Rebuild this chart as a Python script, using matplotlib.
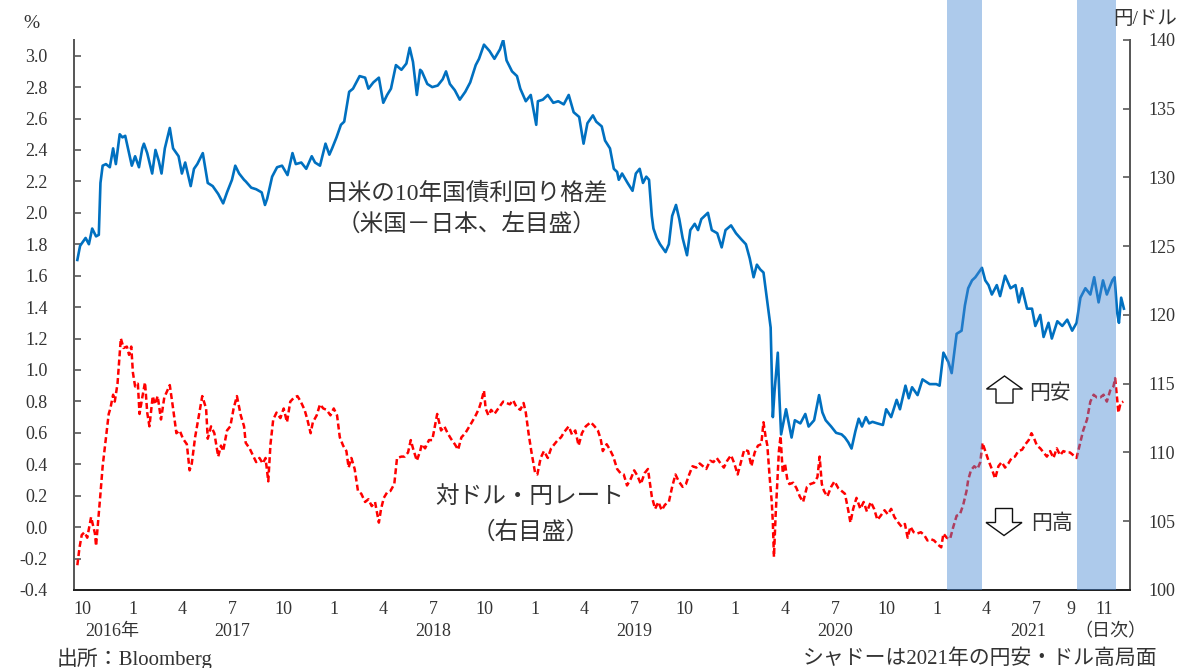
import pandas as pd
import matplotlib
matplotlib.use("Agg")
import matplotlib.pyplot as plt
import matplotlib.transforms as mtransforms
from matplotlib.patches import FancyArrow

plt.rcParams['font.family'] = ['Liberation Serif', 'Noto Sans CJK JP']

# --- data ---
spread_dates = [
    '2016-09-22', '2016-09-27', '2016-10-07', '2016-10-13', '2016-10-19', '2016-10-26', '2016-10-31',
    '2016-11-03', '2016-11-07', '2016-11-13', '2016-11-20', '2016-11-26', '2016-12-01', '2016-12-08',
    '2016-12-13', '2016-12-18', '2016-12-23', '2016-12-30', '2017-01-05', '2017-01-12', '2017-01-18',
    '2017-01-21', '2017-01-27', '2017-02-05', '2017-02-11', '2017-02-17', '2017-02-22', '2017-02-28',
    '2017-03-09', '2017-03-15', '2017-03-25', '2017-03-31', '2017-04-06', '2017-04-16', '2017-04-22',
    '2017-04-28', '2017-05-08', '2017-05-17', '2017-05-26', '2017-06-05', '2017-06-14', '2017-06-21',
    '2017-06-30', '2017-07-06', '2017-07-13', '2017-07-22', '2017-07-25', '2017-08-04', '2017-08-13',
    '2017-08-23', '2017-08-29', '2017-09-02', '2017-09-11', '2017-09-20', '2017-09-29', '2017-10-09',
    '2017-10-18', '2017-10-24', '2017-11-03', '2017-11-12', '2017-11-22', '2017-11-28', '2017-12-07',
    '2017-12-17', '2017-12-24', '2017-12-29', '2018-01-06', '2018-01-14', '2018-01-20', '2018-01-29',
    '2018-02-05', '2018-02-17', '2018-02-27', '2018-03-05', '2018-03-14', '2018-03-24', '2018-04-01',
    '2018-04-08', '2018-04-15', '2018-04-24', '2018-05-04', '2018-05-13', '2018-05-19', '2018-05-25',
    '2018-06-01', '2018-06-07', '2018-06-10', '2018-06-20', '2018-06-29', '2018-07-09', '2018-07-18',
    '2018-07-24', '2018-07-31', '2018-08-09', '2018-08-18', '2018-08-28', '2018-09-06', '2018-09-16',
    '2018-09-22', '2018-10-01', '2018-10-11', '2018-10-20', '2018-10-30', '2018-11-05', '2018-11-11',
    '2018-11-21', '2018-11-30', '2018-12-06', '2018-12-16', '2018-12-25', '2019-01-04', '2019-01-07',
    '2019-01-16', '2019-01-25', '2019-02-04', '2019-02-13', '2019-02-23', '2019-03-04', '2019-03-13',
    '2019-03-23', '2019-03-31', '2019-04-07', '2019-04-17', '2019-04-23', '2019-05-03', '2019-05-09',
    '2019-05-18', '2019-05-25', '2019-05-31', '2019-06-03', '2019-06-09', '2019-06-19', '2019-06-28',
    '2019-07-04', '2019-07-11', '2019-07-17', '2019-07-23', '2019-07-28', '2019-08-02', '2019-08-05',
    '2019-08-11', '2019-08-17', '2019-08-27', '2019-09-02', '2019-09-08', '2019-09-15', '2019-09-21',
    '2019-09-27', '2019-10-05', '2019-10-11', '2019-10-19', '2019-10-25', '2019-10-31', '2019-11-12',
    '2019-11-19', '2019-11-29', '2019-12-07', '2019-12-14', '2019-12-24', '2020-01-02', '2020-01-12',
    '2020-01-20', '2020-01-27', '2020-02-03', '2020-02-09', '2020-02-15', '2020-02-21', '2020-02-28',
    '2020-03-05', '2020-03-09', '2020-03-12', '2020-03-18', '2020-03-21', '2020-03-24', '2020-04-02',
    '2020-04-12', '2020-04-18', '2020-04-28', '2020-05-07', '2020-05-13', '2020-05-23', '2020-06-01',
    '2020-06-07', '2020-06-13', '2020-06-23', '2020-07-02', '2020-07-12', '2020-07-18', '2020-07-24',
    '2020-07-30', '2020-08-06', '2020-08-12', '2020-08-18', '2020-08-25', '2020-08-31', '2020-09-06',
    '2020-09-15', '2020-09-25', '2020-10-01', '2020-10-10', '2020-10-20', '2020-10-26', '2020-11-05',
    '2020-11-11', '2020-11-17', '2020-11-27', '2020-12-06', '2020-12-19', '2020-12-31', '2021-01-06',
    '2021-01-13', '2021-01-22', '2021-01-28', '2021-02-06', '2021-02-15', '2021-02-21', '2021-02-27',
    '2021-03-06', '2021-03-12', '2021-03-18', '2021-03-24', '2021-03-30', '2021-04-05', '2021-04-11',
    '2021-04-20', '2021-04-26', '2021-05-05', '2021-05-15', '2021-05-24', '2021-05-30', '2021-06-05',
    '2021-06-14', '2021-06-23', '2021-06-29', '2021-07-08', '2021-07-14', '2021-07-23', '2021-07-29',
    '2021-08-08', '2021-08-17', '2021-08-26', '2021-09-04', '2021-09-12', '2021-09-19', '2021-09-28',
    '2021-10-07', '2021-10-14', '2021-10-22', '2021-10-30', '2021-11-06', '2021-11-16', '2021-11-20',
    '2021-11-25', '2021-11-28', '2021-12-02', '2021-12-07',
]
spread_vals = [
    1.70, 1.79, 1.84, 1.80, 1.90, 1.85, 1.86,
    2.19, 2.30, 2.31, 2.29, 2.41, 2.31, 2.50,
    2.48, 2.49, 2.41, 2.30, 2.36, 2.29, 2.41,
    2.44, 2.38, 2.25, 2.40, 2.33, 2.25, 2.41,
    2.54, 2.41, 2.36, 2.25, 2.32, 2.17, 2.28,
    2.31, 2.38, 2.19, 2.17, 2.12, 2.06, 2.13,
    2.21, 2.30, 2.25, 2.21, 2.20, 2.16, 2.15,
    2.13, 2.05, 2.09, 2.23, 2.29, 2.30, 2.24,
    2.38, 2.31, 2.32, 2.28, 2.36, 2.32, 2.30,
    2.44, 2.37, 2.41, 2.48, 2.56, 2.58, 2.77,
    2.79, 2.87, 2.86, 2.79, 2.83, 2.86, 2.70,
    2.75, 2.79, 2.94, 2.91, 2.95, 3.05, 2.96,
    2.75, 2.91, 2.90, 2.82, 2.80, 2.81, 2.85,
    2.90, 2.82, 2.78, 2.72, 2.77, 2.83, 2.94,
    2.98, 3.07, 3.03, 2.98, 3.04, 3.10, 2.97,
    2.90, 2.87, 2.79, 2.71, 2.75, 2.56, 2.71,
    2.72, 2.75, 2.70, 2.71, 2.69, 2.75, 2.64,
    2.61, 2.44, 2.57, 2.62, 2.58, 2.55, 2.46,
    2.41, 2.28, 2.26, 2.21, 2.25, 2.19, 2.14,
    2.25, 2.28, 2.19, 2.23, 2.21, 1.98, 1.90,
    1.84, 1.80, 1.75, 1.80, 1.98, 2.05, 1.96,
    1.84, 1.73, 1.89, 1.93, 1.89, 1.96, 2.00,
    1.89, 1.87, 1.78, 1.89, 1.92, 1.87, 1.83,
    1.80, 1.71, 1.59, 1.67, 1.64, 1.62, 1.43,
    1.27, 0.70, 0.86, 1.11, 0.82, 0.59, 0.75,
    0.57, 0.68, 0.66, 0.72, 0.64, 0.68, 0.84,
    0.73, 0.68, 0.64, 0.60, 0.59, 0.57, 0.54,
    0.50, 0.61, 0.69, 0.64, 0.70, 0.66, 0.67,
    0.66, 0.65, 0.75, 0.70, 0.81, 0.75, 0.90,
    0.82, 0.89, 0.84, 0.94, 0.91, 0.91, 0.90,
    1.11, 1.05, 0.98, 1.23, 1.25, 1.41, 1.52,
    1.57, 1.59, 1.62, 1.65, 1.57, 1.54, 1.48,
    1.54, 1.47, 1.60, 1.52, 1.54, 1.43, 1.52,
    1.39, 1.39, 1.28, 1.35, 1.21, 1.30, 1.20,
    1.31, 1.28, 1.32, 1.25, 1.30, 1.46, 1.52,
    1.48, 1.59, 1.43, 1.57, 1.48, 1.57, 1.59,
    1.36, 1.30, 1.46, 1.39,
]

usdjpy_dates = [
    '2016-09-22', '2016-09-26', '2016-09-30', '2016-10-05', '2016-10-10', '2016-10-17', '2016-10-24',
    '2016-10-26', '2016-11-03', '2016-11-07', '2016-11-13', '2016-11-18', '2016-11-21', '2016-11-26',
    '2016-11-29', '2016-12-04', '2016-12-10', '2016-12-15', '2016-12-21', '2016-12-25', '2016-12-29',
    '2017-01-01', '2017-01-05', '2017-01-10', '2017-01-13', '2017-01-18', '2017-01-23', '2017-01-27',
    '2017-01-31', '2017-02-06', '2017-02-10', '2017-02-15', '2017-02-21', '2017-02-27', '2017-03-09',
    '2017-03-15', '2017-03-21', '2017-03-27', '2017-04-02', '2017-04-09', '2017-04-14', '2017-04-18',
    '2017-04-24', '2017-05-01', '2017-05-07', '2017-05-14', '2017-05-17', '2017-05-23', '2017-05-29',
    '2017-06-05', '2017-06-10', '2017-06-14', '2017-06-21', '2017-06-27', '2017-07-03', '2017-07-09',
    '2017-07-16', '2017-07-22', '2017-07-25', '2017-08-01', '2017-08-07', '2017-08-13', '2017-08-19',
    '2017-08-25', '2017-08-30', '2017-09-04', '2017-09-08', '2017-09-13', '2017-09-19', '2017-09-26',
    '2017-10-02', '2017-10-08', '2017-10-14', '2017-10-21', '2017-10-27', '2017-11-02', '2017-11-09',
    '2017-11-14', '2017-11-20', '2017-11-24', '2017-12-01', '2017-12-07', '2017-12-13', '2017-12-19',
    '2017-12-26', '2018-01-01', '2018-01-07', '2018-01-12', '2018-01-18', '2018-01-24', '2018-01-28',
    '2018-02-02', '2018-02-08', '2018-02-14', '2018-02-20', '2018-02-27', '2018-03-05', '2018-03-11',
    '2018-03-17', '2018-03-24', '2018-03-28', '2018-04-02', '2018-04-08', '2018-04-14', '2018-04-21',
    '2018-04-26', '2018-05-04', '2018-05-10', '2018-05-16', '2018-05-21', '2018-05-25', '2018-06-01',
    '2018-06-07', '2018-06-10', '2018-06-16', '2018-06-23', '2018-06-29', '2018-07-08', '2018-07-15',
    '2018-07-21', '2018-07-27', '2018-08-02', '2018-08-09', '2018-08-15', '2018-08-21', '2018-08-28',
    '2018-09-03', '2018-09-09', '2018-09-16', '2018-09-22', '2018-09-26', '2018-10-01', '2018-10-04',
    '2018-10-09', '2018-10-14', '2018-10-20', '2018-10-27', '2018-11-05', '2018-11-11', '2018-11-17',
    '2018-11-23', '2018-11-29', '2018-12-06', '2018-12-12', '2018-12-16', '2018-12-21', '2018-12-26',
    '2019-01-02', '2019-01-06', '2019-01-12', '2019-01-18', '2019-01-25', '2019-01-31', '2019-02-06',
    '2019-02-12', '2019-02-18', '2019-02-24', '2019-03-04', '2019-03-10', '2019-03-16', '2019-03-22',
    '2019-03-28', '2019-04-04', '2019-04-13', '2019-04-20', '2019-04-26', '2019-05-01', '2019-05-05',
    '2019-05-12', '2019-05-18', '2019-05-24', '2019-05-31', '2019-06-06', '2019-06-12', '2019-06-18',
    '2019-06-25', '2019-07-01', '2019-07-07', '2019-07-13', '2019-07-20', '2019-07-26', '2019-08-02',
    '2019-08-08', '2019-08-14', '2019-08-20', '2019-08-26', '2019-09-02', '2019-09-08', '2019-09-14',
    '2019-09-20', '2019-09-27', '2019-10-03', '2019-10-09', '2019-10-15', '2019-10-22', '2019-10-28',
    '2019-11-03', '2019-11-09', '2019-11-16', '2019-11-22', '2019-11-28', '2019-12-05', '2019-12-11',
    '2019-12-17', '2019-12-24', '2019-12-30', '2020-01-05', '2020-01-11', '2020-01-17', '2020-01-24',
    '2020-01-30', '2020-02-05', '2020-02-11', '2020-02-17', '2020-02-21', '2020-02-25', '2020-02-28',
    '2020-03-03', '2020-03-07', '2020-03-09', '2020-03-11', '2020-03-14', '2020-03-17', '2020-03-20',
    '2020-03-23', '2020-03-27', '2020-03-31', '2020-04-04', '2020-04-08', '2020-04-15', '2020-04-21',
    '2020-04-27', '2020-05-03', '2020-05-10', '2020-05-16', '2020-05-23', '2020-05-29', '2020-06-02',
    '2020-06-06', '2020-06-10', '2020-06-16', '2020-06-23', '2020-06-29', '2020-07-06', '2020-07-12',
    '2020-07-18', '2020-07-24', '2020-07-28', '2020-08-02', '2020-08-08', '2020-08-15', '2020-08-21',
    '2020-08-27', '2020-09-03', '2020-09-09', '2020-09-15', '2020-09-21', '2020-09-28', '2020-10-04',
    '2020-10-10', '2020-10-16', '2020-10-23', '2020-10-29', '2020-11-04', '2020-11-09', '2020-11-14',
    '2020-11-20', '2020-11-26', '2020-12-03', '2020-12-09', '2020-12-15', '2020-12-21', '2020-12-27',
    '2021-01-03', '2021-01-09', '2021-01-13', '2021-01-19', '2021-01-25', '2021-01-31', '2021-02-06',
    '2021-02-12', '2021-02-18', '2021-02-24', '2021-02-27', '2021-03-04', '2021-03-10', '2021-03-16',
    '2021-03-21', '2021-03-25', '2021-03-30', '2021-04-05', '2021-04-11', '2021-04-17', '2021-04-23',
    '2021-04-29', '2021-05-05', '2021-05-11', '2021-05-17', '2021-05-23', '2021-05-29', '2021-06-05',
    '2021-06-11', '2021-06-17', '2021-06-22', '2021-06-26', '2021-07-02', '2021-07-08', '2021-07-14',
    '2021-07-20', '2021-07-26', '2021-08-01', '2021-08-07', '2021-08-13', '2021-08-19', '2021-08-25',
    '2021-08-31', '2021-09-06', '2021-09-12', '2021-09-18', '2021-09-24', '2021-10-01', '2021-10-07',
    '2021-10-13', '2021-10-19', '2021-10-25', '2021-10-31', '2021-11-06', '2021-11-12', '2021-11-18',
    '2021-11-21', '2021-11-24', '2021-11-27', '2021-12-01', '2021-12-06',
]
usdjpy_vals = [
    101.8, 103.1, 104.0, 104.2, 103.8, 105.3, 104.1,
    103.2, 107.0, 109.0, 111.1, 112.8, 113.2, 114.2,
    113.7, 115.0, 118.3, 117.6, 117.7, 117.1, 117.7,
    115.8, 114.8, 115.0, 112.8, 114.0, 115.1, 112.9,
    111.9, 114.1, 113.5, 114.1, 112.4, 114.0, 114.9,
    113.2, 111.4, 111.6, 111.0, 110.6, 108.7, 109.2,
    111.1, 112.7, 114.1, 113.2, 111.0, 111.9, 111.4,
    109.7, 110.5, 110.1, 111.6, 111.9, 113.2, 114.1,
    112.7, 111.9, 110.7, 110.3, 109.8, 109.3, 109.6,
    109.2, 109.6, 107.9, 110.6, 112.4, 112.9, 112.5,
    113.2, 112.2, 113.7, 114.0, 114.1, 113.7, 113.1,
    112.4, 111.4, 112.2, 112.7, 113.5, 113.2, 113.1,
    112.7, 113.2, 112.7, 111.1, 110.5, 110.1, 108.9,
    109.6, 108.8, 107.2, 107.0, 106.4, 106.6, 106.1,
    106.4, 104.9, 105.9, 106.7, 107.1, 107.2, 107.7,
    109.6, 109.7, 109.7, 110.0, 110.9, 110.3, 109.4,
    110.1, 110.6, 110.3, 110.9, 110.9, 112.8, 111.6,
    111.9, 111.4, 111.0, 110.6, 110.2, 111.1, 111.4,
    111.8, 112.2, 112.7, 113.2, 113.7, 114.5, 113.2,
    112.7, 113.1, 112.8, 113.2, 113.7, 113.6, 113.5,
    113.8, 113.3, 113.1, 113.6, 112.9, 111.4, 110.1,
    108.5, 108.4, 109.6, 110.1, 109.6, 110.3, 110.6,
    110.9, 111.1, 111.5, 111.9, 111.3, 111.6, 110.5,
    111.4, 111.9, 112.2, 111.9, 111.6, 111.0, 110.1,
    110.6, 110.2, 109.7, 108.8, 108.5, 108.4, 107.6,
    108.1, 108.7, 108.3, 107.7, 108.5, 108.8, 106.8,
    105.9, 106.4, 105.8, 106.2, 106.4, 107.5, 108.4,
    107.9, 107.5, 107.7, 108.4, 109.0, 108.9, 109.2,
    109.0, 108.8, 109.4, 109.3, 109.6, 109.2, 108.9,
    109.4, 109.8, 109.2, 108.4, 109.3, 110.2, 110.1,
    109.0, 110.0, 110.5, 110.6, 112.2, 111.1, 110.5,
    108.3, 106.4, 104.9, 102.4, 105.4, 107.7, 110.1,
    111.2, 108.5, 109.2, 108.1, 107.7, 107.8, 107.4,
    106.8, 106.4, 107.5, 107.7, 107.8, 108.2, 109.7,
    107.7, 107.2, 106.8, 107.5, 107.9, 107.4, 107.2,
    107.0, 105.8, 104.9, 105.9, 106.7, 105.9, 106.4,
    105.7, 106.4, 105.9, 105.1, 105.4, 105.8, 105.5,
    105.9, 105.3, 104.9, 104.6, 104.8, 103.8, 104.6,
    104.2, 104.1, 104.2, 104.0, 103.6, 103.7, 103.6,
    103.3, 103.1, 104.1, 103.8, 103.7, 104.6, 105.4,
    105.5, 106.2, 107.2, 108.0, 108.7, 109.0, 108.8,
    109.3, 110.7, 110.1, 109.4, 108.8, 108.1, 109.0,
    109.3, 108.9, 109.2, 109.6, 109.7, 110.1, 110.2,
    110.6, 110.9, 111.4, 111.1, 110.5, 110.3, 110.0,
    109.7, 110.1, 109.6, 110.3, 109.8, 110.1, 110.0,
    110.0, 109.8, 109.6, 110.6, 111.6, 112.4, 113.7,
    114.2, 114.0, 114.0, 114.2, 113.7, 114.5, 114.8,
    115.4, 114.2, 112.9, 113.6, 113.7,
]

# shaded periods (yen weakening phases of 2021)
shade_starts = ['2021-01-20', '2021-09-12']
shade_ends = ['2021-03-24', '2021-11-23']

month_ticks = ['2016-10-01', '2017-01-01', '2017-04-01', '2017-07-01', '2017-10-01',
               '2018-01-01', '2018-04-01', '2018-07-01', '2018-10-01',
               '2019-01-01', '2019-04-01', '2019-07-01', '2019-10-01',
               '2020-01-01', '2020-04-01', '2020-07-01', '2020-10-01',
               '2021-01-01', '2021-04-01', '2021-07-01', '2021-09-01', '2021-11-01']
month_labels = ['10', '1', '4', '7', '10', '1', '4', '7', '10', '1', '4', '7', '10',
                '1', '4', '7', '10', '1', '4', '7', '9', '11']
year_label_dates = ['2016-11-24', '2017-07-01', '2018-07-01', '2019-07-01',
                    '2020-07-01', '2021-06-16', '2021-11-12']
year_labels = ['2016年', '2017', '2018', '2019', '2020', '2021', '（日次）']

TXT = '#333333'
AXC = '#595959'
BLUE = '#0070C0'
RED = '#FF0000'

fig = plt.figure(figsize=(11.79, 6.68), dpi=100)
ax = fig.add_axes([0.0628, 0.1168, 0.8956, 0.8234])
ax2 = ax.twinx()

ax.plot(pd.to_datetime(spread_dates), spread_vals, color=BLUE, lw=1.9, zorder=3)
ax2.plot(pd.to_datetime(usdjpy_dates), usdjpy_vals, color=RED, lw=1.8,
         linestyle=(0, (2.4, 1.3)), zorder=3)

# shading drawn over both lines, reaching above the plot frame
top_frac = 590.0 / 550.0
for s, e in zip(shade_starts, shade_ends):
    ax2.axvspan(pd.Timestamp(s), pd.Timestamp(e), ymin=0, ymax=top_frac,
                facecolor='#4a8ad4', alpha=0.45, lw=0, zorder=5, clip_on=False)

ax.set_xlim(pd.Timestamp('2016-09-16'), pd.Timestamp('2021-12-18'))
ax.set_ylim(-0.4, 3.1)
ax2.set_ylim(100, 140)

left_ticks = [round(-0.4 + 0.2 * i, 1) for i in range(18)]
ax.set_yticks(left_ticks)
ax.set_yticklabels([f'{v:.1f}' for v in left_ticks])
ax2.set_yticks(range(100, 141, 5))

ax.set_xticks(pd.to_datetime(month_ticks))
ax.set_xticklabels(month_labels)

ax.tick_params(axis='y', direction='in', length=5, width=1.2, color=AXC,
               labelsize=13, labelcolor=TXT, pad=19)
ax2.tick_params(axis='y', direction='in', length=5, width=1.2, color=AXC,
                labelsize=13, labelcolor=TXT, pad=13)
ax.tick_params(axis='x', length=0, labelsize=13, labelcolor=TXT, pad=8)

for a in (ax, ax2):
    a.spines['top'].set_visible(False)
    a.spines['left'].set_color(AXC)
    a.spines['right'].set_color(AXC)
    a.spines['left'].set_linewidth(1.4)
    a.spines['right'].set_linewidth(1.4)
    a.spines['bottom'].set_color('#222222')
    a.spines['bottom'].set_linewidth(1.4)

trans = mtransforms.blended_transform_factory(ax.transData, ax.transAxes)
for d, lab in zip(year_label_dates, year_labels):
    ax.text(pd.Timestamp(d), -0.075, lab, transform=trans, ha='center', va='center',
            fontsize=13, color=TXT)

# unit labels
fig.text(31 / 1179, 1 - 24 / 668, '%', ha='center', va='center', fontsize=14, color=TXT)
fig.text(1177 / 1179, 1 - 20 / 668, '円/ドル', ha='right', va='center', fontsize=14, color=TXT)

# series annotations
ax.text(0.372, 0.722, '日米の10年国債利回り格差', transform=ax.transAxes,
        ha='center', va='center', fontsize=17, color=TXT)
ax.text(0.372, 0.664, '（米国－日本、左目盛）', transform=ax.transAxes,
        ha='center', va='center', fontsize=17, color=TXT)
ax.text(0.432, 0.169, '対ドル・円レート', transform=ax.transAxes,
        ha='center', va='center', fontsize=17, color=TXT)
ax.text(0.432, 0.105, '（右目盛）', transform=ax.transAxes,
        ha='center', va='center', fontsize=17, color=TXT)

# hollow arrows for yen weaker / stronger
up = FancyArrow(10.045, 2.65, 0, 0.27, width=0.17, head_width=0.36, head_length=0.13,
                length_includes_head=True, transform=fig.dpi_scale_trans,
                fc='white', ec='#111111', lw=1.0)
down = FancyArrow(10.04, 1.595, 0, -0.27, width=0.17, head_width=0.36, head_length=0.13,
                  length_includes_head=True, transform=fig.dpi_scale_trans,
                  fc='white', ec='#111111', lw=1.0)
fig.add_artist(up)
fig.add_artist(down)
fig.text(1050 / 1179, 1 - 394 / 668, '円安', ha='center', va='center', fontsize=15, color=TXT)
fig.text(1052 / 1179, 1 - 524 / 668, '円高', ha='center', va='center', fontsize=15, color=TXT)

# footer notes
fig.text(57 / 1179, 1 - 659 / 668, '出所：Bloomberg', ha='left', va='center',
         fontsize=15, color=TXT)
fig.text(1157 / 1179, 1 - 659 / 668, 'シャドーは2021年の円安・ドル高局面', ha='right',
         va='center', fontsize=15, color=TXT)

fig.savefig('out.png', dpi=100)
